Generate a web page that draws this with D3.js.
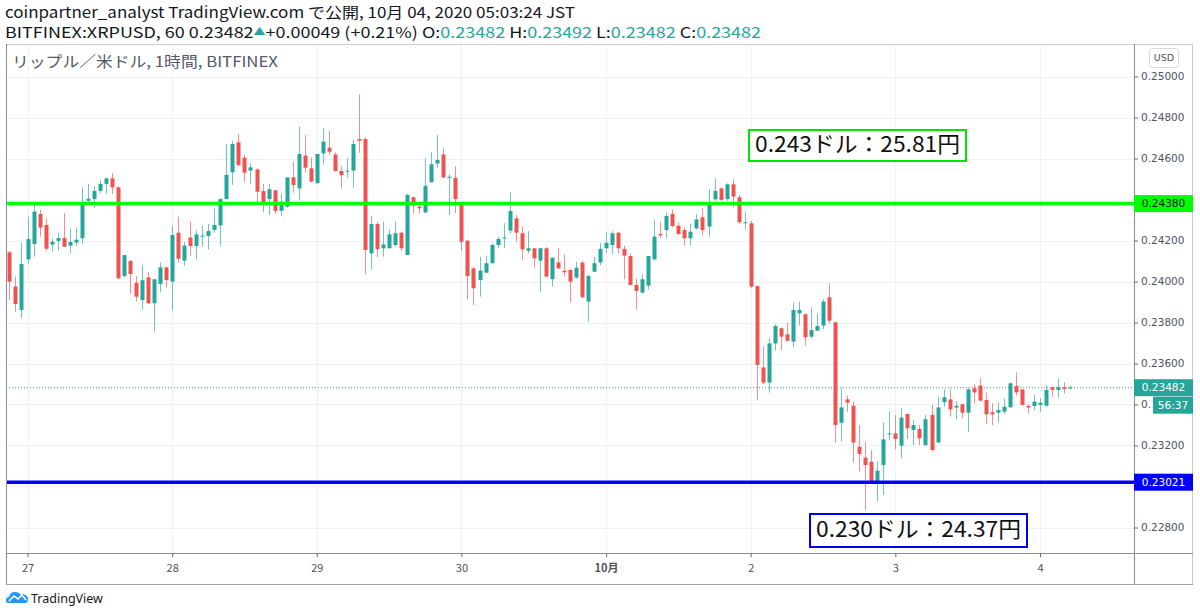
<!DOCTYPE html>
<html><head><meta charset="utf-8">
<script src="https://cdnjs.cloudflare.com/ajax/libs/d3/7.8.5/d3.min.js"></script>
<style>body{margin:0;background:#fff;overflow:hidden}svg{display:block}</style>
</head><body><svg id="c" width="1200" height="615"></svg>
<script>
// ---- data (hourly candles, BITFINEX XRPUSD, JST) ----
const startTime = Date.UTC(2020, 8, 26, 21); // first candle: 26 Sep 21:00
const opens = [0.24142,0.23975,0.23861,0.24108,0.24183,0.24329,0.24276,0.24180,0.24198,0.24212,0.24175,0.24190,0.24211,0.24394,0.24402,0.24442,0.24476,0.24503,0.24459,0.24027,0.24100,0.23994,0.23910,0.24020,0.23894,0.23988,0.24069,0.23999,0.24238,0.24102,0.24215,0.24173,0.24219,0.24222,0.24251,0.24274,0.24402,0.24533,0.24679,0.24604,0.24541,0.24547,0.24441,0.24402,0.24445,0.24345,0.24365,0.24508,0.24454,0.24614,0.24552,0.24479,0.24625,0.24653,0.24620,0.24539,0.24536,0.24541,0.24695,0.24695,0.24137,0.24280,0.24162,0.24162,0.24178,0.24238,0.24129,0.24411,0.24365,0.24337,0.24484,0.24576,0.24620,0.24506,0.24506,0.24381,0.24199,0.24064,0.24007,0.24043,0.24089,0.24178,0.24211,0.24248,0.24308,0.24235,0.24150,0.24162,0.24102,0.24162,0.24011,0.24093,0.24053,0.24056,0.24019,0.24092,0.23902,0.24048,0.24093,0.24162,0.24178,0.24238,0.24159,0.24124,0.23983,0.23946,0.23980,0.24108,0.24232,0.24251,0.24329,0.24272,0.24251,0.24211,0.24259,0.24313,0.24268,0.24401,0.24454,0.24402,0.24474,0.24411,0.24284,0.24284,0.23978,0.23581,0.23507,0.23698,0.23772,0.23742,0.23707,0.23845,0.23840,0.23731,0.23760,0.23785,0.23923,0.23801,0.23311,0.23425,0.23394,0.23194,0.23141,0.23121,0.23024,0.23105,0.23254,0.23259,0.23199,0.23354,0.23276,0.23281,0.23202,0.23349,0.23215,0.23411,0.23425,0.23385,0.23401,0.23360,0.23479,0.23492,0.23422,0.23362,0.23360,0.23365,0.23386,0.23490,0.23474,0.23393,0.23393,0.23398,0.23394,0.23484,0.23471,0.23484,0.23482];
const highs = [0.24150,0.24024,0.24190,0.24316,0.24378,0.24349,0.24308,0.24211,0.24238,0.24333,0.24259,0.24263,0.24458,0.24476,0.24466,0.24495,0.24507,0.24528,0.24463,0.24129,0.24105,0.24027,0.24081,0.24045,0.24011,0.24092,0.24069,0.24272,0.24316,0.24194,0.24292,0.24251,0.24272,0.24281,0.24357,0.24406,0.24671,0.24685,0.24720,0.24617,0.24576,0.24552,0.24477,0.24476,0.24445,0.24427,0.24508,0.24585,0.24755,0.24715,0.24604,0.24622,0.24747,0.24734,0.24630,0.24563,0.24601,0.24690,0.24913,0.24703,0.24321,0.24292,0.24292,0.24254,0.24292,0.24243,0.24427,0.24414,0.24373,0.24601,0.24630,0.24715,0.24653,0.24523,0.24563,0.24386,0.24202,0.24072,0.24121,0.24126,0.24186,0.24219,0.24284,0.24435,0.24324,0.24267,0.24246,0.24162,0.24162,0.24167,0.24116,0.24162,0.24132,0.24061,0.24097,0.24100,0.24032,0.24121,0.24189,0.24240,0.24246,0.24243,0.24175,0.24137,0.24015,0.24035,0.24124,0.24303,0.24292,0.24337,0.24352,0.24287,0.24264,0.24281,0.24328,0.24360,0.24451,0.24503,0.24459,0.24479,0.24498,0.24422,0.24341,0.24295,0.23978,0.23682,0.23723,0.23791,0.23776,0.23801,0.23898,0.23902,0.23845,0.23874,0.23845,0.23915,0.23991,0.23801,0.23479,0.23443,0.23414,0.23300,0.23219,0.23178,0.23124,0.23311,0.23365,0.23349,0.23381,0.23354,0.23324,0.23300,0.23349,0.23398,0.23438,0.23474,0.23474,0.23417,0.23401,0.23479,0.23498,0.23531,0.23459,0.23406,0.23411,0.23430,0.23507,0.23557,0.23474,0.23402,0.23446,0.23430,0.23495,0.23487,0.23528,0.23508,0.23492];
const lows = [0.23910,0.23853,0.23819,0.24089,0.24121,0.24219,0.24150,0.24146,0.24150,0.24167,0.24137,0.24173,0.24183,0.24385,0.24357,0.24430,0.24427,0.24427,0.24011,0.24020,0.23939,0.23902,0.23864,0.23890,0.23755,0.23947,0.23972,0.23858,0.24092,0.24076,0.24126,0.24108,0.24170,0.24157,0.24238,0.24173,0.24402,0.24471,0.24563,0.24484,0.24474,0.24373,0.24337,0.24324,0.24332,0.24321,0.24360,0.24433,0.24398,0.24531,0.24484,0.24479,0.24571,0.24617,0.24536,0.24454,0.24506,0.24458,0.24628,0.24035,0.24059,0.24118,0.24121,0.24162,0.24170,0.24150,0.24129,0.24332,0.24332,0.24333,0.24484,0.24555,0.24503,0.24324,0.24333,0.24149,0.23913,0.23885,0.23926,0.24040,0.24089,0.24162,0.24162,0.24235,0.24194,0.24105,0.24137,0.24067,0.23950,0.24020,0.23975,0.24061,0.24024,0.23898,0.24015,0.23918,0.23804,0.24045,0.24080,0.24137,0.24133,0.24137,0.24011,0.23980,0.23864,0.23942,0.23962,0.24102,0.24211,0.24211,0.24264,0.24227,0.24175,0.24175,0.24254,0.24224,0.24219,0.24394,0.24393,0.24394,0.24362,0.24281,0.24254,0.23967,0.23419,0.23500,0.23458,0.23663,0.23663,0.23707,0.23679,0.23785,0.23687,0.23723,0.23760,0.23768,0.23796,0.23214,0.23219,0.23365,0.23116,0.23072,0.22885,0.23020,0.22926,0.22958,0.23224,0.23181,0.23137,0.23232,0.23202,0.23202,0.23199,0.23170,0.23210,0.23389,0.23341,0.23328,0.23333,0.23267,0.23406,0.23414,0.23305,0.23300,0.23311,0.23352,0.23386,0.23443,0.23393,0.23357,0.23373,0.23365,0.23389,0.23438,0.23433,0.23454,0.23482];
const closes = [0.23999,0.23890,0.24085,0.24207,0.24341,0.24263,0.24160,0.24194,0.24212,0.24170,0.24193,0.24204,0.24373,0.24404,0.24442,0.24476,0.24503,0.24459,0.24016,0.24129,0.24037,0.23926,0.24006,0.23894,0.24011,0.24069,0.24007,0.24227,0.24111,0.24175,0.24173,0.24230,0.24224,0.24246,0.24276,0.24402,0.24520,0.24671,0.24568,0.24531,0.24557,0.24438,0.24386,0.24450,0.24344,0.24389,0.24508,0.24471,0.24622,0.24555,0.24487,0.24622,0.24682,0.24633,0.24539,0.24519,0.24541,0.24671,0.24687,0.24154,0.24280,0.24157,0.24181,0.24230,0.24235,0.24162,0.24422,0.24370,0.24357,0.24467,0.24572,0.24593,0.24508,0.24511,0.24402,0.24194,0.24027,0.23967,0.24053,0.24089,0.24178,0.24207,0.24215,0.24344,0.24238,0.24157,0.24162,0.24113,0.24162,0.24024,0.24116,0.24064,0.24045,0.23999,0.24067,0.23923,0.24027,0.24089,0.24159,0.24189,0.24235,0.24162,0.24126,0.23983,0.23954,0.24011,0.24124,0.24219,0.24225,0.24320,0.24271,0.24232,0.24211,0.24243,0.24303,0.24251,0.24376,0.24442,0.24398,0.24474,0.24414,0.24289,0.24289,0.23975,0.23593,0.23507,0.23698,0.23783,0.23731,0.23711,0.23861,0.23861,0.23728,0.23763,0.23783,0.23902,0.23809,0.23300,0.23386,0.23409,0.23214,0.23159,0.23105,0.23024,0.23077,0.23230,0.23259,0.23232,0.23336,0.23284,0.23300,0.23235,0.23328,0.23178,0.23386,0.23435,0.23376,0.23394,0.23360,0.23474,0.23459,0.23419,0.23352,0.23352,0.23373,0.23389,0.23503,0.23459,0.23398,0.23385,0.23414,0.23409,0.23471,0.23471,0.23484,0.23476,0.23482];
const priceTicks = [0.228,0.230,0.232,0.234,0.236,0.238,0.240,0.242,0.244,0.246,0.248,0.250];
const dayTicks = [[Date.UTC(2020,8,27),"27"],[Date.UTC(2020,8,28),"28"],[Date.UTC(2020,8,29),"29"],[Date.UTC(2020,8,30),"30"],[Date.UTC(2020,9,1),"10月"],[Date.UTC(2020,9,2),"2"],[Date.UTC(2020,9,3),"3"],[Date.UTC(2020,9,4),"4"]];
const resistance = 0.2438, support = 0.23021, lastPrice = 0.23482;
const noteTop = "0.243ドル：25.81円", noteBottom = "0.230ドル：24.37円";

// ---- layout ----
const L = 6, R = 1193, T = 44, B = 585, AX = 1134, XB = 553;
const up = "#26a69a", dn = "#ef5350";
const svg = d3.select("#c");
const x = d3.scaleUtc().domain([Date.UTC(2020,8,27), Date.UTC(2020,9,4)]).range([27.5, 1040]);
const y = d3.scaleLinear().domain([0.228, 0.250]).range([527.5, 76.5]);
const candles = opens.map((o,i)=>({t:startTime + i*3600e3, o, h:highs[i], l:lows[i], c:closes[i]}));

const defs = svg.append("defs");
defs.append("clipPath").attr("id","plot").append("rect").attr("x",L).attr("y",T).attr("width",AX-L).attr("height",XB-T);

// grid
const g = svg.append("g").attr("clip-path","url(#plot)");
g.selectAll(".hg").data(priceTicks).join("line").attr("x1",L).attr("x2",AX).attr("y1",d=>Math.round(y(d))+0.5).attr("y2",d=>Math.round(y(d))+0.5).attr("stroke","#eef1f6").attr("stroke-width",1);
g.selectAll(".vg").data(dayTicks).join("line").attr("y1",T).attr("y2",XB).attr("x1",d=>Math.round(x(d[0]))+0.5).attr("x2",d=>Math.round(x(d[0]))+0.5).attr("stroke","#eef1f6");

// last price dotted line
g.append("line").attr("x1",L).attr("x2",AX).attr("y1",y(lastPrice)).attr("y2",y(lastPrice)).attr("stroke",up).attr("stroke-dasharray","1,2").attr("stroke-width",1);

// candles
function col(d,i){ if(d.c>d.o) return up; if(d.c<d.o) return dn; return (i>0 && d.c<candles[i-1].c)?dn:up; }
const cg = g.append("g");
cg.selectAll(".w").data(candles).join("line")
  .attr("x1",d=>Math.round(x(d.t))+0.5).attr("x2",d=>Math.round(x(d.t))+0.5)
  .attr("y1",d=>y(d.h)).attr("y2",d=>y(d.l))
  .attr("stroke",(d,i)=>col(d,i)).attr("stroke-opacity",0.65).attr("stroke-width",1);
cg.selectAll(".b").data(candles).join("rect")
  .attr("x",d=>Math.round(x(d.t))-1.5).attr("width",4)
  .attr("y",d=>y(Math.max(d.o,d.c)))
  .attr("height",d=>Math.max(1,Math.abs(y(d.o)-y(d.c))))
  .attr("fill",(d,i)=>col(d,i));

// horizontal levels
g.append("line").attr("x1",L).attr("x2",AX).attr("y1",y(resistance)).attr("y2",y(resistance)).attr("stroke","#00ff00").attr("stroke-width",3.5);
g.append("line").attr("x1",L).attr("x2",AX).attr("y1",y(support)).attr("y2",y(support)).attr("stroke","#0000ff").attr("stroke-width",3.5);

// annotation boxes
function note(text, x0, y0, w, h, color){
  svg.append("rect").attr("x",x0).attr("y",y0).attr("width",w).attr("height",h).attr("fill","#fff").attr("stroke",color).attr("stroke-width",2);
  svg.append("text").attr("x",x0+6).attr("y",y0+h/2+1).attr("dominant-baseline","middle").attr("font-family","'Noto Sans CJK JP','Noto Sans',sans-serif").attr("font-size",22)
    .attr("textLength",w-12).attr("lengthAdjust","spacingAndGlyphs").attr("fill","#111").text(text);
}
note(noteTop, 749, 130, 217, 31, "#00e600");
note(noteBottom, 810, 514, 217, 33, "#0000ee");

// frame
const fr = svg.append("g").attr("fill","none");
fr.append("rect").attr("x",L+0.5).attr("y",T+0.5).attr("width",R-L-1).attr("height",B-T-1).attr("stroke","#c8cbd2");
fr.append("line").attr("x1",L+0.5).attr("x2",L+0.5).attr("y1",T).attr("y2",B).attr("stroke","#8a8e96");
fr.append("line").attr("x1",AX+0.5).attr("x2",AX+0.5).attr("y1",T).attr("y2",B).attr("stroke","#8a8e96");
fr.append("line").attr("x1",L).attr("x2",R).attr("y1",XB+0.5).attr("y2",XB+0.5).attr("stroke","#8a8e96");
fr.append("line").attr("x1",L).attr("x2",R).attr("y1",B-0.5).attr("y2",B-0.5).attr("stroke","#a0a4ab");

// price axis: labels fully covered by the level tags are not drawn; 0.23400 shows only "0." beside the countdown
const hidden = [0.244, 0.230];
const yAxis = d3.axisRight(y).tickValues(priceTicks).tickSize(4).tickPadding(3)
  .tickFormat(d=>hidden.some(h=>Math.abs(h-d)<1e-9) ? "" : (Math.abs(d-0.234)<1e-9 ? "0." : d3.format(".5f")(d)));
const ya = svg.append("g").attr("transform",`translate(${AX},0)`).call(yAxis);
ya.select(".domain").remove();
ya.selectAll("line").attr("stroke","#6a6d78");
ya.selectAll("text").attr("fill","#50535e").attr("font-family","'DejaVu Sans',sans-serif").attr("font-size",10.5);

// time axis
const xAxis = d3.axisBottom(x).tickValues(dayTicks.map(d=>d[0])).tickSize(4).tickPadding(7).tickFormat((d,i)=>dayTicks[i][1]);
const xa = svg.append("g").attr("transform",`translate(0,${XB})`).call(xAxis);
xa.select(".domain").remove();
xa.selectAll("line").attr("stroke","#6a6d78");
xa.selectAll("text").attr("fill","#50535e").attr("font-family","'Noto Sans CJK JP','DejaVu Sans',sans-serif").attr("font-size",11).attr("font-weight",(d,i)=>dayTicks[i][1]==="10月"?"bold":"normal");

// axis labels
function tag(v, bg, fg, txt, x0, w){
  const yy = y(v);
  svg.append("rect").attr("x",x0).attr("y",yy-8.5).attr("width",w).attr("height",17).attr("fill",bg);
  svg.append("text").attr("x",x0+w/2).attr("y",yy+0.5).attr("text-anchor","middle").attr("dominant-baseline","middle").attr("font-family","'DejaVu Sans',sans-serif").attr("font-size",10.5).attr("fill",fg).text(txt);
}
tag(resistance, "#00ff00", "#131722", d3.format(".5f")(resistance), AX, R-AX);
tag(support, "#0000ff", "#ffffff", d3.format(".5f")(support), AX, R-AX);
tag(lastPrice, up, "#ffffff", d3.format(".5f")(lastPrice), AX, R-AX);
svg.append("rect").attr("x",1153).attr("y",y(lastPrice)+9).attr("width",R-1153).attr("height",17).attr("fill",up);
svg.append("text").attr("x",(1153+R)/2).attr("y",y(lastPrice)+18).attr("text-anchor","middle").attr("dominant-baseline","middle").attr("font-family","'DejaVu Sans',sans-serif").attr("font-size",10.5).attr("fill","#fff").text("56:37");

// USD badge
svg.append("rect").attr("x",1149.5).attr("y",48.5).attr("width",29).attr("height",19).attr("rx",3).attr("fill","#fff").attr("stroke","#d6d8de");
svg.append("text").attr("x",1164).attr("y",58.5).attr("text-anchor","middle").attr("dominant-baseline","middle").attr("font-family","'DejaVu Sans',sans-serif").attr("font-size",9.5).attr("fill","#50535e").text("USD");

// header
const hf = "'Noto Sans CJK JP','Noto Sans',sans-serif";
svg.append("text").attr("x",5).attr("y",18).attr("font-family",hf).attr("font-size",15).attr("fill","#131722")
  .attr("textLength",570).attr("lengthAdjust","spacingAndGlyphs")
  .text("coinpartner_analyst TradingView.com で公開, 10月 04, 2020 05:03:24 JST");
const h2 = svg.append("text").attr("x",5).attr("y",38).attr("font-family",hf).attr("font-size",15).attr("fill","#131722")
  .attr("textLength",756).attr("lengthAdjust","spacingAndGlyphs");
h2.append("tspan").text("BITFINEX:XRPUSD, 60 0.23482");
h2.append("tspan").attr("fill",up).attr("font-size",10).attr("dy",-3).text("▲");
h2.append("tspan").attr("dy",3).text("+0.00049 (+0.21%) O:");
h2.append("tspan").attr("fill",up).text("0.23482");
h2.append("tspan").text(" H:");
h2.append("tspan").attr("fill",up).text("0.23492");
h2.append("tspan").text(" L:");
h2.append("tspan").attr("fill",up).text("0.23482");
h2.append("tspan").text(" C:");
h2.append("tspan").attr("fill",up).text("0.23482");

svg.append("text").attr("x",12).attr("y",67).attr("font-family",hf).attr("font-size",15).attr("fill","#555a66")
  .attr("textLength",266).attr("lengthAdjust","spacingAndGlyphs").text("リップル／米ドル, 1時間, BITFINEX");

// TradingView logo
const lg = svg.append("g").attr("transform","translate(6,590)");
lg.append("path").attr("d","M2,13 Q0,13 0,10 Q0,7 3,7 Q4,2 9,2 Q13,2 15,5 Q17,3 19,5 Q22,6 22,9 Q22,13 19,13 Z").attr("fill","#2196f3");
lg.append("path").attr("d","M3,11 L8,6 L12,9 L16,5 L20,10").attr("fill","none").attr("stroke","#fff").attr("stroke-width",1.6);
svg.append("text").attr("x",31).attr("y",603).attr("font-family","'Noto Sans','DejaVu Sans',sans-serif").attr("font-size",12.5).attr("fill","#131722").text("TradingView");
</script></body></html>
